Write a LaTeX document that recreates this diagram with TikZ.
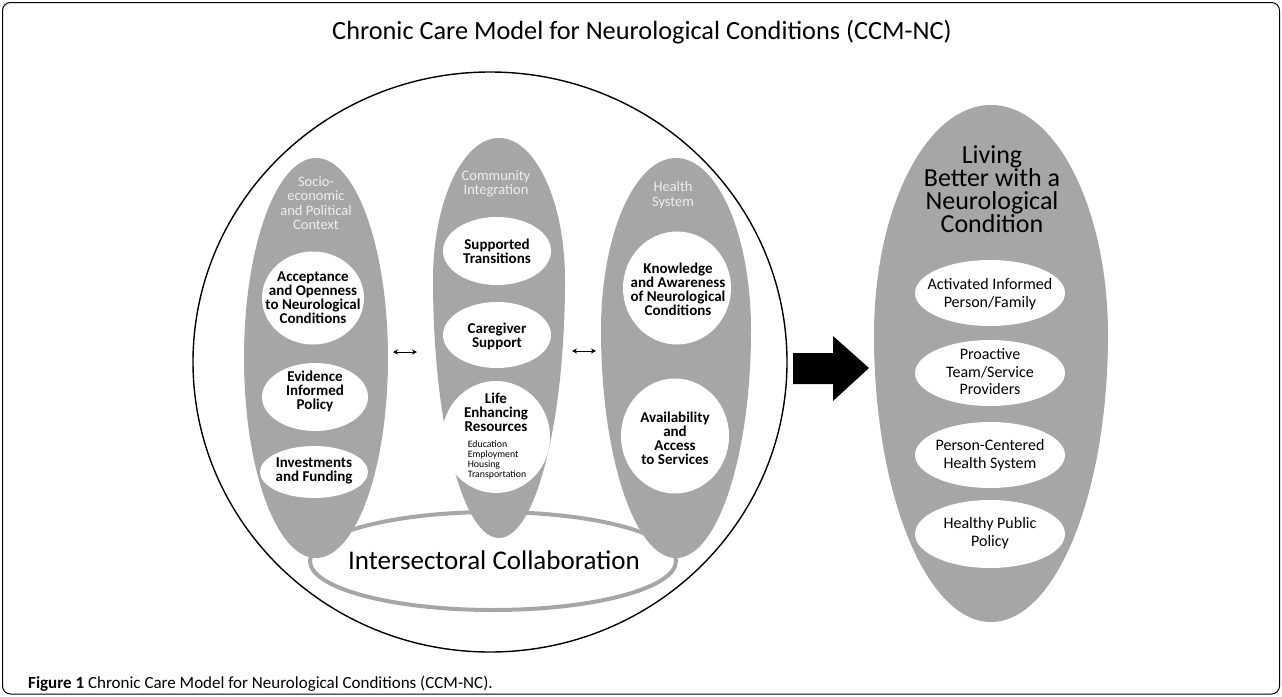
\documentclass[tikz,border=0pt]{standalone}
\usepackage{fontspec}
\setmainfont{Carlito}
\usetikzlibrary{shapes.geometric,arrows.meta}
\definecolor{pillar}{HTML}{A6A6A6}
\definecolor{hdrtext}{HTML}{EEEEEE}
% egg-like shape: #1 style, #2 cx, #3 y of widest point, #4 rx, #5 top radius, #6 bottom radius
\newcommand\eggshape[6]{%
  \fill[#1] (#2,#3-#5) .. controls (#2+0.5523*#4,#3-#5) and (#2+#4,#3-0.5523*#5) .. (#2+#4,#3)
    .. controls (#2+#4,#3+0.5523*#6) and (#2+0.5523*#4,#3+#6) .. (#2,#3+#6)
    .. controls (#2-0.5523*#4,#3+#6) and (#2-#4,#3+0.5523*#6) .. (#2-#4,#3)
    .. controls (#2-#4,#3-0.5523*#5) and (#2-0.5523*#4,#3-#5) .. cycle;}
\tikzset{
  pillarshape/.style={ellipse, fill=pillar, draw=none, inner sep=0pt},
  whiteshape/.style={ellipse, fill=white, draw=none, inner sep=0pt},
  hdr/.style={align=center, inner sep=0pt, text=hdrtext, font=\fontsize{14.5}{14.5}\selectfont},
  btxt/.style={align=center, inner sep=0pt, font=\fontsize{15}{14}\selectfont\bfseries},
  smalltxt/.style={align=left, inner sep=0pt, font=\fontsize{9.8}{10}\selectfont},
  rtxt/.style={align=center, inner sep=0pt, font=\fontsize{16}{17.5}\selectfont},
  dblarrow/.style={{Stealth[length=5pt,width=5pt]}-{Stealth[length=5pt,width=5pt]}, line width=1pt},
}
\begin{document}
\begin{tikzpicture}[x=1pt,y=-1pt]
\useasboundingbox (0,0) rectangle (1282,696);
% frame
\draw[line width=1pt, rounded corners=8pt] (2.5,2.5) rectangle (1279.5,694);
% title
\node[anchor=base, inner sep=0pt, font=\fontsize{26.3}{26}\selectfont] (title) at (642,39) {Chronic Care Model for Neurological Conditions (CCM-NC)};
% big circle
\node[ellipse, draw, line width=1.4pt, minimum width=594pt, minimum height=580pt, inner sep=0pt] (outer) at (490,362) {};
% intersectoral ellipse
\node[ellipse, draw=pillar, line width=4pt, fill=white, minimum width=366pt, minimum height=98pt, inner sep=0pt] (inter) at (493,561) {};
% pillars
\node[pillarshape, minimum width=144pt, minimum height=400pt] (soc) at (316,358) {};
\eggshape{pillar}{499}{280}{66}{142}{258}
\coordinate (com) at (499,338);
\eggshape{pillar}{676}{330}{75}{172}{228}
\coordinate (hs) at (676,358);
% headers
\node[hdr] (soch) at (316,203) {Socio-\\economic\\and Political\\Context};
\node[hdr] (comh) at (496,184) {Community\\Integration};
\node[hdr] (hsh) at (673,195) {Health\\System};
% white ellipses left
\node[whiteshape, minimum width=102pt, minimum height=93pt] (acc) at (313,298) {};
\node[whiteshape, minimum width=106pt, minimum height=68pt] (evi) at (315,397) {};
\node[whiteshape, minimum width=108pt, minimum height=52pt] (inv) at (314,472) {};
% white ellipses middle
\node[whiteshape, minimum width=108pt, minimum height=68pt] (sup) at (497,251) {};
\node[whiteshape, minimum width=108pt, minimum height=66pt] (car) at (497,335) {};
\node[whiteshape, minimum width=108pt, minimum height=112pt] (life) at (496,437) {};
% white ellipses right pillar
\node[whiteshape, minimum width=108pt, minimum height=113pt] (kno) at (677,288) {};
\node[whiteshape, minimum width=108pt, minimum height=115pt] (ava) at (675,436) {};
% texts
\node[btxt] (acct) at (313,298) {Acceptance\\and Openness\\to Neurological\\Conditions};
\node[btxt] (evit) at (315,391) {Evidence\\Informed\\Policy};
\node[btxt] (invt) at (314,471) {Investments\\and Funding};
\node[btxt] (supt) at (497,251) {Supported\\Transitions};
\node[btxt] (cart) at (497,336) {Caregiver\\Support};
\node[btxt] (lifet) at (496,412) {Life\\Enhancing\\Resources};
\node[smalltxt] (lifes) at (497,460) {Education\\Employment\\Housing\\Transportation};
\node[btxt] (knot) at (678,289) {Knowledge\\and Awareness\\of Neurological\\Conditions};
\node[btxt] (avat) at (675,438) {Availability\\and\\Access\\to Services};
% intersectoral text
\node[anchor=base, inner sep=0pt, font=\fontsize{27}{27}\selectfont] (intert) at (494,569) {Intersectoral Collaboration};
% small double arrows
\coordinate (a1l) at (393,352);
\coordinate (a1r) at (417,352);
\coordinate (a2l) at (572,351);
\coordinate (a2r) at (596,351);
\draw[dblarrow] (a1l) -- (a1r);
\draw[dblarrow] (a2l) -- (a2r);
% big arrow
\fill (793,353) -- (833,353) -- (833,336) -- (869,368) -- (833,401) -- (833,384) -- (793,384) -- cycle;
% right outcome shape
\eggshape{pillar}{991}{335}{117}{230}{287}
\coordinate (out) at (991,363);
\node[anchor=center, align=center, inner sep=0pt, font=\fontsize{26}{22.3}\selectfont] (outt) at (992,189) {Living\\Better with a\\Neurological\\Condition};
\node[whiteshape, minimum width=150pt, minimum height=66pt] (o1) at (990,293) {};
\node[whiteshape, minimum width=150pt, minimum height=66pt] (o2) at (990,373) {};
\node[whiteshape, minimum width=150pt, minimum height=66pt] (o3) at (990,455) {};
\node[whiteshape, minimum width=150pt, minimum height=68pt] (o4) at (990,534) {};
\node[rtxt] (o1t) at (990,294) {Activated Informed\\Person/Family};
\node[rtxt] (o2t) at (990,372) {Proactive\\Team/Service\\Providers};
\node[rtxt] (o3t) at (990,455) {Person-Centered\\Health System};
\node[rtxt] (o4t) at (990,533) {Healthy Public\\Policy};
% caption
\node[anchor=base west, inner sep=0pt, font=\fontsize{17}{17}\selectfont] (cap) at (28,688) {\textbf{Figure 1} Chronic Care Model for Neurological Conditions (CCM-NC).};
\end{tikzpicture}
\end{document}
